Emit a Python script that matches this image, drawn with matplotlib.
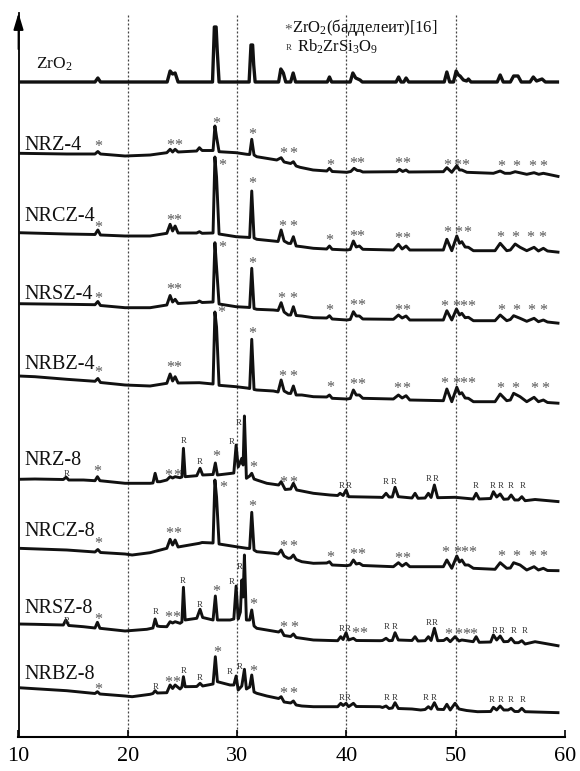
import matplotlib
matplotlib.use('Agg')
import matplotlib.pyplot as plt

plt.rcParams['font.family'] = ['Liberation Serif', 'DejaVu Serif']
plt.rcParams['mathtext.default'] = 'regular'

# ---------------- data: (2theta, intensity in stacked units) ----------------
zro2 = [(10.0,655),(17.0,655),(17.26,659),(17.5,655),(23.6,655),(23.87,666),(24.1,663),(24.33,664),(24.6,655),
        (27.75,655),(27.92,710),(28.08,710),(28.18,687),(28.35,655),(31.1,655),(31.27,692),(31.42,692),(31.52,672),
        (31.65,655),(33.8,655),(34.0,668),(34.12,666),(34.23,664),(34.45,655),(34.9,655),(35.13,664),(35.35,655),
        (38.25,655),(38.45,660),(38.65,655),(40.35,655),(40.59,664),(40.85,659),(41.25,657),(41.45,655),(44.55,655),
        (44.78,660),(45.0,655),(45.25,655),(45.46,659),(45.7,655),(48.95,655),(49.19,665),(49.45,655),(49.8,655),
        (50.04,666),(50.25,662),(50.4,661),(50.7,657),(51.0,656),(51.16,658),(51.4,655),(53.8,655),(54.07,662),
        (54.35,655),(55.0,655),(55.3,661),(55.7,661),(56.0,655),(56.8,655),(57.1,660),(57.4,656),(57.9,658),
        (58.2,655),(59.46,655)]

nrz4 = [(10.0,583.7),(14.42,583),(17.0,583),(17.26,585.5),(17.5,583),(19.75,581),(22.04,582),(23.57,584.3),
        (23.87,587.7),(24.1,585),(24.33,587.7),(24.6,585),(26.3,586),(26.55,589.3),(26.8,586.5),(27.8,586.5),
        (27.97,611),(28.12,600),(28.35,585.3),(29.91,584.3),(30.89,582.7),(31.15,582.5),(31.34,597.7),(31.55,582),
        (31.8,580.3),(33.63,577),(34.03,579.3),(34.3,575),(34.9,573.5),(35.15,575.3),(35.4,571),(35.76,569.7),
        (36.95,567),(38.21,566),(38.45,568.7),(38.7,565.5),(40.04,564.7),(40.4,565.5),(40.7,568.7),(41.0,566.5),
        (41.25,566.3),(41.5,565),(44.61,565.3),(44.85,567.7),(45.15,565.5),(45.46,567),(45.7,565),(48.87,565.3),
        (49.19,569.3),(49.64,564.7),(50.1,571.3),(50.35,567),(50.56,567),(51.02,564.7),(53.45,563.7),(54.07,566),
        (54.5,563.7),(54.98,563.7),(55.44,565.3),(56.5,562.7),(57.17,564.3),(57.6,562.7),(58.02,563.7),(59.49,560.3)]

nrcz4 = [(10.0,504.3),(14.42,503),(17.0,502.5),(17.26,507),(17.5,502),(19.75,501),(22.04,501),(23.57,503.7),
         (23.87,512.7),(24.1,506),(24.33,511),(24.6,504),(26.3,504),(26.55,505.3),(26.8,503.7),(27.8,504),
         (27.97,580),(28.12,560),(28.35,503),(29.91,500.3),(30.89,499.7),(31.15,499.5),(31.34,546),(31.55,499),
         (31.8,497.7),(33.32,496),(33.75,495.5),(34.03,507),(34.3,496),(34.67,493.7),(34.9,493.5),(35.15,500.3),
         (35.4,491),(35.92,490.3),(36.98,488.7),(38.2,488),(38.45,491),(38.7,487.7),(40.04,487),(40.35,487.5),
         (40.64,496),(40.9,490),(41.19,491),(41.5,487.7),(44.3,487),(44.76,492.7),(45.1,488),(45.46,491),(45.8,487),
         (48.87,487),(49.19,497.7),(49.64,486.3),(50.1,501),(50.35,493.7),(50.56,495.3),(50.86,490),(51.16,489.7),
         (51.62,486.3),(53.6,486.3),(54.07,493.7),(54.67,486.3),(55.0,487),(55.44,493),(55.89,489.7),(56.5,486.3),
         (57.17,489.7),(57.57,486),(58.02,488.7),(58.4,486),(59.49,484.7)]

nrsz4 = [(10.0,433.3),(14.42,432.7),(17.0,432.3),(17.26,435.5),(17.5,431.5),(19.75,429.3),(22.04,429.3),(23.57,432),
         (23.87,441.5),(24.1,435),(24.33,437.7),(24.6,433.5),(26.3,434.5),(26.55,436),(26.8,434.5),(27.8,435),
         (27.97,494.3),(28.12,470),(28.35,433),(29.91,430.3),(30.89,429.7),(31.15,429.5),(31.34,468.7),(31.55,428.5),
         (31.8,427.7),(33.32,427),(33.75,426.5),(34.03,434.3),(34.3,425),(34.67,422),(34.9,422),(35.15,430.3),
         (35.4,421.5),(35.92,421),(36.98,419.3),(38.2,419),(38.45,421.3),(38.7,418),(40.04,417),(40.35,417.5),
         (40.64,425.3),(40.9,421),(41.19,421),(41.5,418),(44.3,417.7),(44.76,422),(45.1,419),(45.46,421),(45.8,417),
         (48.87,417),(49.19,426.3),(49.64,417),(50.07,428),(50.35,422),(50.56,423.7),(50.86,419.3),(51.16,419.7),
         (51.62,416.3),(53.6,416.3),(54.07,422),(54.67,416.3),(55.0,417.5),(55.3,421.3),(55.89,418.7),(56.5,415.7),
         (57.17,418.7),(57.57,415.3),(58.02,417),(58.4,415),(59.49,413.7)]

nrbz4 = [(10.0,361),(11.5,360.3),(14.42,357.7),(17.0,355.7),(17.26,358.5),(17.5,354.5),(19.75,352),(22.04,351),
         (23.57,353.7),(23.87,363),(24.1,356),(24.33,360.3),(24.6,354),(26.55,354.3),(27.8,353),(27.97,425),
         (28.12,410),(28.35,351.7),(29.91,350.3),(30.89,349),(31.15,348.5),(31.34,397.7),(31.55,347.5),(31.8,347),
         (33.32,346),(33.75,345),(34.03,357),(34.3,346),(34.67,343.7),(34.9,343.5),(35.15,351),(35.4,342),
         (35.92,342),(36.98,340.3),(38.2,340),(38.45,342),(38.7,338.7),(40.04,338),(40.35,338.5),(40.64,347),
         (40.9,342),(41.19,342),(41.5,338.7),(44.3,338),(44.76,342),(45.1,339),(45.46,341.3),(45.8,337),(48.87,336.3),
         (49.19,348),(49.64,335.3),(50.1,349.7),(50.35,343),(50.56,344.3),(50.86,339),(51.16,338.7),(51.62,335.3),
         (53.6,335.3),(54.07,343),(54.67,336.3),(55.0,337),(55.3,343.7),(55.89,340.3),(56.5,335.3),(57.17,339.7),
         (57.57,335.3),(58.02,337),(58.4,334.5),(59.49,333.7)]

nrz8 = [(10.0,257.7),(11.5,258),(14.1,257.5),(14.36,259.8),(14.6,257),(15.94,257),(17.0,256.3),(17.22,260.3),
        (17.45,256.3),(19.75,253.7),(22.04,253.7),(22.3,254),(22.5,263.7),(22.7,255.3),(22.96,255.3),(23.57,257),
        (23.87,260.3),(24.1,259),(24.33,260.3),(24.78,259.3),(24.95,260),(25.09,288.7),(25.25,260.3),(26.31,261.3),
        (26.61,268.7),(26.85,262),(27.8,262.5),(28.01,274),(28.2,262),(29.36,263.5),(29.7,264),(29.91,292),
        (30.1,270),(30.43,278.7),(30.55,272),(30.67,321),(30.85,258.7),(31.15,261),(31.34,263.7),(31.55,258),
        (31.8,257),(32.72,253.7),(33.8,252),(34.03,255.3),(34.4,247.5),(34.9,248),(35.15,253.7),(35.45,247),
        (35.92,246),(36.98,243.7),(38.5,242),(39.2,241.5),(39.42,243.7),(39.7,241.5),(39.97,247),(40.2,240.3),
        (43.08,239.7),(43.3,239.5),(43.63,243.7),(43.9,240),(44.2,240),(44.45,249.7),(44.75,240.3),(46.0,239),
        (46.28,243.7),(46.55,238.7),(47.2,239),(47.5,243.7),(47.75,239.5),(48.05,252),(48.35,239.3),(49.94,239.7),
        (51.6,238),(51.87,243.7),(52.15,238),(53.2,238.5),(53.45,245.3),(53.75,240),(54.07,243),(54.4,237.7),
        (54.8,238),(55.07,242),(55.4,237),(55.75,237),(56.05,240.3),(56.35,236.3),(57.26,237.5),(59.49,235.3)]

nrcz8 = [(10.0,188.7),(14.42,187),(17.0,185),(17.26,187.5),(17.5,184.5),(19.75,183),(20.4,182),(22.04,184.3),
         (23.57,188.7),(23.87,197.7),(24.1,192),(24.33,197),(24.6,190),(26.55,193.7),(26.8,194.5),(27.8,194),
         (27.97,257),(28.12,240),(28.35,193),(29.91,190.3),(30.89,188.7),(31.15,188.5),(31.34,224.7),(31.55,187),
         (31.8,185.3),(33.32,183.7),(33.75,183),(34.03,187),(34.3,181),(34.67,178.7),(34.9,179),(35.15,182),
         (35.4,177.5),(35.92,175.3),(36.98,173.7),(38.2,174),(38.45,175.3),(38.7,172),(40.04,171.3),(40.35,172),
         (40.64,177),(40.9,173),(41.19,173.7),(41.5,171.5),(44.3,170.3),(44.76,174.3),(45.1,171),(45.46,173.7),
         (45.8,170.3),(48.87,170.3),(49.19,177),(49.64,168.7),(50.1,181),(50.35,175),(50.56,177),(50.86,172),
         (51.16,172),(51.62,168.7),(53.6,167.7),(54.07,174.3),(54.67,168.7),(55.0,169),(55.3,174.3),(55.89,172),
         (56.5,167),(57.17,170.3),(57.57,167),(58.02,168.7),(58.4,166.5),(59.49,166.3)]

nrsz8 = [(10.0,113),(11.5,112.7),(14.1,112),(14.33,117),(14.6,111.5),(15.94,110.3),(17.0,109),(17.22,114.7),
         (17.45,108.7),(19.75,106),(21.74,107.7),(22.3,109),(22.5,118),(22.7,111),(22.96,110.5),(23.57,110.3),
         (23.87,115.3),(24.1,114),(24.33,115.3),(24.78,113.7),(24.95,115),(25.09,149.7),(25.25,117),(26.31,118.7),
         (26.61,127.7),(26.85,119.5),(27.8,117),(28.01,141),(28.2,117),(29.36,117),(29.7,118),(29.91,151),
         (30.1,118),(30.3,125),(30.43,157),(30.55,140),(30.67,182),(30.85,117),(31.15,117),(31.34,127),(31.55,111),
         (31.8,108.7),(32.72,107),(33.8,105),(34.03,107),(34.3,101.5),(34.9,100.5),(35.15,103),(35.4,99.5),
         (35.92,98.7),(36.98,97),(38.5,96.5),(39.2,96.3),(39.48,100.3),(39.7,97.5),(39.97,104.3),(40.2,97),
         (40.64,98.7),(40.9,96.5),(43.08,96.3),(43.3,96.5),(43.63,98.7),(43.9,96.3),(44.2,96.5),(44.45,104.3),
         (44.75,97),(46.0,96.5),(46.28,100.3),(46.55,96),(47.2,96.3),(47.5,100.3),(47.75,96.5),(48.05,108.7),
         (48.35,96.3),(48.9,96.5),(49.19,98.7),(49.5,95.3),(49.94,100.3),(50.3,96),(50.56,97),(51.0,96.3),
         (51.6,95.3),(51.87,100.3),(52.15,94.7),(53.2,95),(53.45,102),(53.75,97),(54.07,101),(54.4,95.3),
         (54.8,95.5),(55.07,98.7),(55.4,94.3),(55.75,94.3),(56.05,96.3),(56.35,93),(57.26,95.3),(59.49,91)]

nrbz8 = [(10.0,49.3),(14.42,46.3),(17.0,43.5),(17.22,45.3),(17.45,43),(19.75,41),(20.4,40.3),(22.04,42.7),
         (22.3,43.5),(22.5,46.3),(22.7,44),(23.57,44.3),(23.87,52),(24.1,48.5),(24.33,52),(24.78,48),(24.95,50),
         (25.09,60.3),(25.25,50.3),(26.31,50.5),(26.61,53.7),(26.85,51),(27.8,53),(28.01,80.3),(28.2,55.3),
         (29.36,52),(29.7,52),(29.91,61),(30.1,47),(30.43,51),(30.67,67.7),(30.85,48),(31.15,50),(31.34,62),
         (31.55,45),(31.8,43.7),(32.72,41),(33.8,38.5),(34.03,40.3),(34.3,35),(34.9,34),(35.15,36),(35.4,32),
         (35.92,31),(36.98,30.3),(38.5,30.3),(39.2,30.3),(39.48,33.7),(39.7,31.5),(39.97,33.7),(40.2,30.3),
         (40.64,33.7),(40.9,30.5),(43.08,30.3),(43.3,29.5),(43.63,31),(43.9,28.5),(44.2,29),(44.45,34.3),
         (44.75,28.5),(46.0,28),(46.8,27),(47.2,27.5),(47.5,30.3),(47.75,28),(48.05,34.3),(48.35,27.7),
         (48.9,27.5),(49.19,32.7),(49.5,27),(49.94,33.7),(50.3,28),(51.0,26.5),(52.0,25.3),(53.2,25.5),
         (53.45,29.7),(53.75,27),(54.07,31),(54.4,27),(54.8,27),(55.07,28.7),(55.4,25.5),(55.75,25.5),
         (56.05,28.7),(56.35,25.3),(59.49,24.3)]

# phase markers: (2theta, level) ; '*' = ZrO2 baddeleyite, 'R' = Rb2ZrSi3O9
nrz4_star = [(17.26,593),(23.87,594.3),(24.63,594.3),(28.08,616),(31.34,605.3),(34.18,586),(35.15,586),
             (38.51,574.7),(40.59,576.3),(41.25,576.3),(44.76,576.3),(45.43,576.3),(49.19,574.3),(50.1,574.3),
             (50.86,574.3),(54.16,573.7),(55.53,573.7),(56.96,573.7),(58.02,573.7)]
nrcz4_star = [(17.31,512.7),(23.87,519.3),(24.48,519.3),(28.6,574.3),(31.34,556),(34.09,513.7),(35.15,513.7),
              (38.45,499.7),(40.59,503.7),(41.25,503.7),(44.76,501),(45.46,501),(49.19,507.7),(50.25,507.7),
              (51.02,507.7),(54.07,502),(55.44,502),(56.81,502),(57.88,502)]
nrsz4_star = [(17.26,441),(23.87,450.3),(24.48,450.3),(28.6,492),(31.34,476),(34.03,441),(35.1,441),
              (38.45,429.3),(40.64,434.3),(41.35,434.3),(44.76,429.3),(45.46,429.3),(48.97,433.7),(50.04,433.7),
              (50.7,433.7),(51.38,433.7),(54.16,429.3),(55.53,429.3),(56.9,429.3),(57.97,429.3)]
nrbz4_star = [(17.26,367),(23.87,372),(24.48,372),(28.54,427),(31.34,406),(34.09,363.7),(35.15,363.7),
              (38.51,352),(40.64,355.3),(41.32,355.3),(44.67,351),(45.43,351),(48.97,356),(50.04,356),
              (50.7,356),(51.41,356),(54.07,351),(55.44,351),(57.17,351),(58.21,351)]
nrz8_star = [(17.22,268.7),(23.71,264.3),(24.48,264.3),(28.05,283),(31.49,272.7),(34.18,257),(35.15,257)]
nrz8_r = [(14.42,262.5),(25.09,296),(26.61,275.3),(29.52,295.3),(30.18,313.7),(39.58,251),(40.18,251),
          (43.63,255.3),(44.3,255.3),(47.5,257.7),(48.21,257.7),(51.87,251),(53.36,251),(54.07,251),
          (55.07,251),(56.1,251)]
nrcz8_star = [(17.31,196),(23.81,206),(24.48,206),(28.69,252.7),(31.34,233),(34.18,193.7),(35.15,193.7),
              (38.51,182),(40.64,185.3),(41.35,185.3),(44.76,181),(45.46,181),(49.04,187),(50.1,187),
              (50.77,187),(51.47,187),(54.16,183),(55.53,183),(56.96,183),(58.02,183)]
nrsz8_star = [(17.26,120.3),(23.71,122),(24.42,122),(28.08,148),(31.44,135.3),(34.18,112),(35.22,112),
              (40.8,106.3),(41.5,106.3),(49.28,105.3),(50.25,105.3),(50.95,105.3),(51.62,105.3)]
nrsz8_r = [(14.42,116.3),(22.53,124.7),(25.03,156),(26.61,132),(29.52,154.7),(30.21,170.3),(39.58,107.7),
           (40.13,107.7),(43.7,110.3),(44.39,110.3),(47.5,113.7),(48.12,113.7),(53.54,106),(54.22,106),
           (55.28,106),(56.28,106)]
nrbz8_star = [(17.26,50.3),(23.71,57),(24.42,57),(28.14,87),(31.44,68.7),(34.18,46.3),(35.15,46.3)]
nrbz8_r = [(22.53,50.3),(25.15,66),(26.61,58.7),(29.36,65.3),(30.27,70.3),(39.58,39.3),(40.13,39.3),
           (43.7,39.3),(44.46,39.3),(47.26,39.3),(47.96,39.3),(53.3,37),(54.07,37),(55.07,37),(56.1,37)]

sample_names = ['ZrO$_2$', 'NRZ-4', 'NRCZ-4', 'NRSZ-4', 'NRBZ-4', 'NRZ-8', 'NRCZ-8', 'NRSZ-8', 'NRBZ-8']
traces = [zro2, nrz4, nrcz4, nrsz4, nrbz4, nrz8, nrcz8, nrsz8, nrbz8]
star_marks = [[], nrz4_star, nrcz4_star, nrsz4_star, nrbz4_star, nrz8_star, nrcz8_star, nrsz8_star, nrbz8_star]
r_marks = [[], [], [], [], [], nrz8_r, [], nrsz8_r, nrbz8_r]
label_levels = [668, 587, 516, 438, 368, 272, 201, 124, 58]
x_ticks = [10, 20, 30, 40, 50, 60]
grid_lines = [20, 30, 40, 50]
legend_lines = ['ZrO$_2$(бадделеит)[16]', 'Rb$_2$ZrSi$_3$O$_9$']

# ---------------- figure ----------------
W, H = 580, 771
fig = plt.figure(figsize=(W / 100, H / 100), dpi=100)
ax = fig.add_axes([18.5 / W, 34 / H, (565 - 18.5) / W, (737 - 13) / H])
ax.set_xlim(10, 60)
ax.set_ylim(0, 724)

for g in grid_lines:
    ax.axvline(g, color='#444444', lw=0.9, ls=(0, (1.6, 1.6)), zorder=1)

for i, tr in enumerate(traces):
    xs = [p[0] for p in tr]
    ys = [p[1] for p in tr]
    ax.plot(xs, ys, color='#111111', lw=2.4 if i == 0 else 2.1,
            solid_joinstyle='round', solid_capstyle='butt', zorder=3)
    ax.text(11.6 if i == 0 else 10.55, label_levels[i], sample_names[i],
            fontsize=12.5 if i == 0 else 14.5, va='baseline', ha='left', color='#111111', zorder=4)
    for (x, y) in star_marks[i]:
        ax.annotate('*', (x, y), xytext=(0, -2.5), textcoords='offset points',
                    ha='center', va='center', fontsize=11.5, color='#555555', zorder=4)
    for (x, y) in r_marks[i]:
        ax.annotate('R', (x, y), ha='center', va='center', fontsize=6.3, color='#333333', zorder=4)

# legend (phase key)
ax.annotate('*', (34.67, 710), xytext=(0, -2.5), textcoords='offset points',
            ha='center', va='center', fontsize=11, color='#555555')
ax.text(35.05, 705, legend_lines[0], fontsize=12, va='baseline', ha='left', color='#111111')
ax.annotate('R', (34.76, 689), ha='center', va='center', fontsize=6.3, color='#333333')
ax.text(35.5, 685, legend_lines[1], fontsize=12, va='baseline', ha='left', color='#111111')

# axes styling
for s in ['top', 'right']:
    ax.spines[s].set_visible(False)
ax.spines['left'].set_linewidth(1.3)
ax.spines['bottom'].set_linewidth(1.5)
ax.set_yticks([])
ax.set_xticks(x_ticks)
ax.set_xticklabels([str(t) for t in x_ticks])
ax.tick_params(axis='x', direction='in', length=5, width=1.2, labelsize=16, pad=7)
ax.annotate('', xy=(0, 1.0), xytext=(0, 0.95), xycoords='axes fraction',
            arrowprops=dict(arrowstyle='-|>,head_length=1.0,head_width=0.3', color='black', lw=1.3,
                            shrinkA=0, shrinkB=0))

fig.savefig('out.png', dpi=100)
